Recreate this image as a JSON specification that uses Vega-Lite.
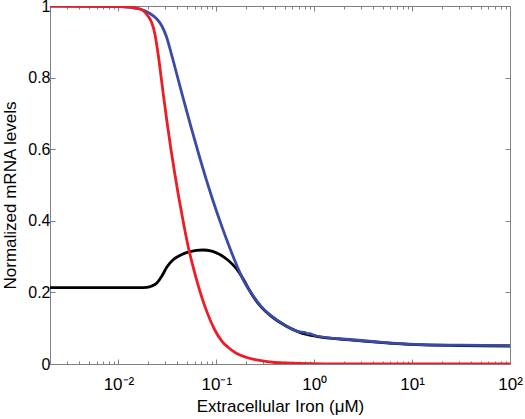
{
  "$schema": "https://vega.github.io/schema/vega-lite/v6.json",
  "width": 460,
  "height": 358,
  "autosize": {"type": "none"},
  "padding": {"left": 50, "top": 6, "right": 15, "bottom": 55},
  "background": "white",
  "config": {
    "view": {"stroke": "#808080", "strokeWidth": 1},
    "font": "Liberation Sans",
    "axis": {
      "grid": false,
      "domainColor": "#808080",
      "tickColor": "#808080",
      "labelColor": "#000000",
      "titleColor": "#000000",
      "labelFont": "Liberation Sans",
      "titleFont": "Liberation Sans",
      "labelFontSize": 16,
      "titleFontSize": 17,
      "titleFontWeight": "normal"
    }
  },
  "datasets": {
    "curves": [
      {"x": 0.002, "v": 0.2134, "s": "black"},
      {"x": 0.008, "v": 0.2134, "s": "black"},
      {"x": 0.01657, "v": 0.2134, "s": "black"},
      {"x": 0.01953, "v": 0.2142, "s": "black"},
      {"x": 0.02197, "v": 0.2179, "s": "black"},
      {"x": 0.0247, "v": 0.2263, "s": "black"},
      {"x": 0.02779, "v": 0.2458, "s": "black"},
      {"x": 0.03126, "v": 0.2709, "s": "black"},
      {"x": 0.03598, "v": 0.2905, "s": "black"},
      {"x": 0.0424, "v": 0.3031, "s": "black"},
      {"x": 0.05364, "v": 0.3142, "s": "black"},
      {"x": 0.07282, "v": 0.3184, "s": "black"},
      {"x": 0.08995, "v": 0.3156, "s": "black"},
      {"x": 0.10856, "v": 0.3059, "s": "black"},
      {"x": 0.13101, "v": 0.2905, "s": "black"},
      {"x": 0.15812, "v": 0.2682, "s": "black"},
      {"x": 0.1908, "v": 0.2346, "s": "black"},
      {"x": 0.21967, "v": 0.2045, "s": "black"},
      {"x": 0.23738, "v": 0.189, "s": "black"},
      {"x": 0.29117, "v": 0.1575, "s": "black"},
      {"x": 0.35137, "v": 0.1366, "s": "black"},
      {"x": 0.52036, "v": 0.1052, "s": "black"},
      {"x": 0.71121, "v": 0.0882, "s": "black"},
      {"x": 1.0529, "v": 0.0771, "s": "black"},
      {"x": 2.3021, "v": 0.0674, "s": "black"},
      {"x": 5.0, "v": 0.0597, "s": "black"},
      {"x": 11.03, "v": 0.0541, "s": "black"},
      {"x": 30.5, "v": 0.0516, "s": "black"},
      {"x": 100, "v": 0.0503, "s": "black"},

      {"x": 0.002, "v": 1.0, "s": "blue"},
      {"x": 0.01036, "v": 0.9986, "s": "blue"},
      {"x": 0.01657, "v": 0.9916, "s": "blue"},
      {"x": 0.02097, "v": 0.9791, "s": "blue"},
      {"x": 0.0247, "v": 0.9637, "s": "blue"},
      {"x": 0.02779, "v": 0.9441, "s": "blue"},
      {"x": 0.03103, "v": 0.9134, "s": "blue"},
      {"x": 0.03433, "v": 0.8715, "s": "blue"},
      {"x": 0.03772, "v": 0.8296, "s": "blue"},
      {"x": 0.04584, "v": 0.7424, "s": "blue"},
      {"x": 0.05583, "v": 0.6567, "s": "blue"},
      {"x": 0.06786, "v": 0.5754, "s": "blue"},
      {"x": 0.0781, "v": 0.5191, "s": "blue"},
      {"x": 0.08933, "v": 0.4685, "s": "blue"},
      {"x": 0.10046, "v": 0.4267, "s": "blue"},
      {"x": 0.11377, "v": 0.3845, "s": "blue"},
      {"x": 0.13196, "v": 0.3369, "s": "blue"},
      {"x": 0.15812, "v": 0.2819, "s": "blue"},
      {"x": 0.18765, "v": 0.236, "s": "blue"},
      {"x": 0.23738, "v": 0.1905, "s": "blue"},
      {"x": 0.29117, "v": 0.159, "s": "blue"},
      {"x": 0.35137, "v": 0.138, "s": "blue"},
      {"x": 0.52036, "v": 0.1065, "s": "blue"},
      {"x": 0.71121, "v": 0.0894, "s": "blue"},
      {"x": 0.77, "v": 0.0884, "s": "blue"},
      {"x": 0.8, "v": 0.0886, "s": "blue"},
      {"x": 0.85, "v": 0.0845, "s": "blue"},
      {"x": 0.9, "v": 0.0848, "s": "blue"},
      {"x": 0.95, "v": 0.0825, "s": "blue"},
      {"x": 1.0529, "v": 0.0782, "s": "blue"},
      {"x": 2.3021, "v": 0.0684, "s": "blue"},
      {"x": 5.0, "v": 0.0606, "s": "blue"},
      {"x": 11.03, "v": 0.055, "s": "blue"},
      {"x": 30.5, "v": 0.0525, "s": "blue"},
      {"x": 100, "v": 0.0511, "s": "blue"},

      {"x": 0.002, "v": 1.0, "s": "red"},
      {"x": 0.01036, "v": 0.9992, "s": "red"},
      {"x": 0.01657, "v": 0.9916, "s": "red"},
      {"x": 0.02, "v": 0.9721, "s": "red"},
      {"x": 0.02197, "v": 0.9525, "s": "red"},
      {"x": 0.02357, "v": 0.9219, "s": "red"},
      {"x": 0.02548, "v": 0.8644, "s": "red"},
      {"x": 0.02715, "v": 0.8067, "s": "red"},
      {"x": 0.02879, "v": 0.7519, "s": "red"},
      {"x": 0.03126, "v": 0.6787, "s": "red"},
      {"x": 0.03433, "v": 0.6012, "s": "red"},
      {"x": 0.03772, "v": 0.5298, "s": "red"},
      {"x": 0.04142, "v": 0.4645, "s": "red"},
      {"x": 0.04444, "v": 0.4188, "s": "red"},
      {"x": 0.05157, "v": 0.3284, "s": "red"},
      {"x": 0.0628, "v": 0.236, "s": "red"},
      {"x": 0.08053, "v": 0.1442, "s": "red"},
      {"x": 0.09654, "v": 0.095, "s": "red"},
      {"x": 0.11377, "v": 0.0642, "s": "red"},
      {"x": 0.13101, "v": 0.0475, "s": "red"},
      {"x": 0.15812, "v": 0.0307, "s": "red"},
      {"x": 0.20478, "v": 0.0182, "s": "red"},
      {"x": 0.27792, "v": 0.0098, "s": "red"},
      {"x": 0.39537, "v": 0.0042, "s": "red"},
      {"x": 0.71121, "v": 0.0014, "s": "red"},
      {"x": 2.3, "v": 0.0, "s": "red"},
      {"x": 100, "v": 0.0, "s": "red"}
    ]
  },
  "data": {"name": "curves"},
  "layer": [
    {
      "transform": [{"filter": "datum.s == 'black'"}],
      "mark": {"type": "line", "color": "#000000", "strokeWidth": 2.8, "interpolate": "monotone", "clip": true},
      "encoding": {
        "x": {
          "field": "x", "type": "quantitative",
          "scale": {"type": "log", "domain": [0.002, 100], "nice": false},
          "axis": {
            "orient": "bottom",
            "title": "Extracellular Iron (μM)",
            "titlePadding": 4,
            "values": [0.002,0.003,0.004,0.005,0.006,0.007,0.008,0.009,0.01,0.02,0.03,0.04,0.05,0.06,0.07,0.08,0.09,0.1,0.2,0.3,0.4,0.5,0.6,0.7,0.8,0.9,1,2,3,4,5,6,7,8,9,10,20,30,40,50,60,70,80,90,100],
            "labelExpr": "datum.value==0.01?'10⁻²':datum.value==0.1?'10⁻¹':datum.value==1?'10⁰':datum.value==10?'10¹':datum.value==100?'10²':''",
            "labelOverlap": false,
            "labelFlush": false,
            "labelFontSize": 17,
            "labelPadding": 17,
            "tickSize": {"condition": {"test": "datum.value==0.01||datum.value==0.1||datum.value==1||datum.value==10||datum.value==100", "value": -5}, "value": -3},
            "domain": true
          }
        },
        "y": {
          "field": "v", "type": "quantitative",
          "scale": {"domain": [0, 1], "nice": false},
          "axis": {
            "orient": "left",
            "title": "Normalized mRNA levels",
            "values": [0, 0.2, 0.4, 0.6, 0.8, 1],
            "format": ".1~f",
            "tickSize": -5,
            "labelPadding": 5,
            "titlePadding": 8,
            "titleY": 189
          }
        }
      }
    },
    {
      "transform": [{"filter": "datum.s == 'blue'"}],
      "mark": {"type": "line", "color": "#3a4aa6", "strokeWidth": 2.8, "interpolate": "monotone", "clip": true},
      "encoding": {
        "x": {
          "field": "x", "type": "quantitative",
          "scale": {"type": "log", "domain": [0.002, 100], "nice": false},
          "axis": {
            "orient": "top",
            "title": null,
            "labels": false,
            "values": [0.002,0.003,0.004,0.005,0.006,0.007,0.008,0.009,0.01,0.02,0.03,0.04,0.05,0.06,0.07,0.08,0.09,0.1,0.2,0.3,0.4,0.5,0.6,0.7,0.8,0.9,1,2,3,4,5,6,7,8,9,10,20,30,40,50,60,70,80,90,100],
            "tickSize": {"condition": {"test": "datum.value==0.01||datum.value==0.1||datum.value==1||datum.value==10||datum.value==100", "value": -5}, "value": -3}
          }
        },
        "y": {
          "field": "v", "type": "quantitative",
          "scale": {"domain": [0, 1], "nice": false},
          "axis": {
            "orient": "right",
            "title": null,
            "labels": false,
            "values": [0, 0.2, 0.4, 0.6, 0.8, 1],
            "tickSize": -5
          }
        }
      }
    },
    {
      "transform": [{"filter": "datum.s == 'red'"}],
      "mark": {"type": "line", "color": "#ee1d25", "strokeWidth": 2.8, "interpolate": "monotone", "clip": true},
      "encoding": {
        "x": {"field": "x", "type": "quantitative", "scale": {"type": "log", "domain": [0.002, 100], "nice": false}, "axis": null},
        "y": {"field": "v", "type": "quantitative", "scale": {"domain": [0, 1], "nice": false}, "axis": null}
      }
    }
  ],
  "resolve": {"axis": {"x": "independent", "y": "independent"}}
}
